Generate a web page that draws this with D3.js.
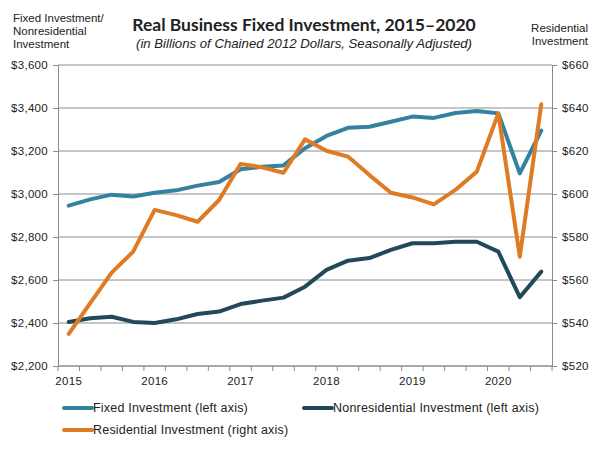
<!DOCTYPE html>
<html>
<head>
<meta charset="utf-8">
<script src="https://cdn.jsdelivr.net/npm/d3@7"></script>
<style>
  body { margin: 0; background: #fff; }
  text { fill: #222; }
</style>
</head>
<body>
<div id="chart"></div>
<script>
// quarterly data, 2015Q1 - 2020Q3
const quarters = ["2015Q1", "2015Q2", "2015Q3", "2015Q4",
    "2016Q1", "2016Q2", "2016Q3", "2016Q4",
    "2017Q1", "2017Q2", "2017Q3", "2017Q4",
    "2018Q1", "2018Q2", "2018Q3", "2018Q4",
    "2019Q1", "2019Q2", "2019Q3", "2019Q4",
    "2020Q1", "2020Q2", "2020Q3"];
const fixedInv = [2946, 2975, 2997, 2988, 3006, 3017, 3039, 3056, 3115, 3127, 3133, 3213,
    3270, 3308, 3313, 3336, 3360, 3354, 3377, 3386, 3375, 3096, 3295];
const nonresInv = [2405, 2422, 2429, 2405, 2400, 2417, 2442, 2453, 2488, 2504, 2518, 2569,
    2647, 2690, 2702, 2740, 2771, 2771, 2778, 2778, 2732, 2520, 2639];
const residInv = [534.9, 549.2, 563.4, 573.2, 592.6, 590.2, 587.1, 597.2, 614.0, 612.4, 609.9, 625.4,
    620.1, 617.4, 608.8, 600.6, 598.4, 595.2, 601.9, 610.4, 637.5, 570.8, 641.7];
const leftTicks = [2200, 2400, 2600, 2800, 3000, 3200, 3400, 3600];
const rightTicks = [520, 540, 560, 580, 600, 620, 640, 660];
const yearLabels = ["2015Q1", "2016Q1", "2017Q1", "2018Q1", "2019Q1", "2020Q1"];

const width = 600, height = 450;
const margin = {top: 65, right: 48, bottom: 84, left: 58};
const font = "'Liberation Sans', Arial, sans-serif";

const svg = d3.select("#chart").append("svg")
    .attr("width", width)
    .attr("height", height)
    .style("font-family", font);

const x = d3.scaleBand()
    .domain(quarters)
    .range([margin.left, width - margin.right]);

const yLeft = d3.scaleLinear()
    .domain([2200, 3600])
    .range([height - margin.bottom, margin.top]);

const yRight = d3.scaleLinear()
    .domain([520, 660])
    .range([height - margin.bottom, margin.top]);

// gridlines
svg.append("g")
    .selectAll("line")
    .data(leftTicks)
    .join("line")
    .attr("x1", margin.left)
    .attr("x2", width - margin.right)
    .attr("y1", d => yLeft(d))
    .attr("y2", d => yLeft(d))
    .attr("stroke", "#8c8c8c")
    .attr("stroke-width", 1);

// left axis
const leftAxis = svg.append("g")
    .attr("transform", `translate(${margin.left},0)`)
    .call(d3.axisLeft(yLeft).tickValues(leftTicks).tickSize(5).tickPadding(5)
        .tickFormat(d => "$" + d3.format(",")(d)));
// right axis
const rightAxis = svg.append("g")
    .attr("transform", `translate(${width - margin.right},0)`)
    .call(d3.axisRight(yRight).tickValues(rightTicks).tickSize(5).tickPadding(5)
        .tickFormat(d => "$" + d));

[leftAxis, rightAxis].forEach(a => {
    a.select(".domain").attr("stroke", "#8c8c8c");
    a.selectAll(".tick line").attr("stroke", "#8c8c8c");
    a.selectAll(".tick text").style("font-size", "11.5px").style("font-family", font)
        .style("letter-spacing", "0.3px").attr("fill", "#222");
});

// bottom axis: ticks at quarter boundaries, labels at Q1
const bottom = svg.append("g")
    .attr("transform", `translate(0,${height - margin.bottom})`);
bottom.append("line")
    .attr("x1", margin.left)
    .attr("x2", width - margin.right)
    .attr("stroke", "#8c8c8c");
const boundaries = quarters.map(q => x(q)).concat([x.range()[1]]);
bottom.selectAll(".qtick")
    .data(boundaries)
    .join("line")
    .attr("class", "qtick")
    .attr("x1", d => d).attr("x2", d => d)
    .attr("y1", 0).attr("y2", 5)
    .attr("stroke", "#8c8c8c");
bottom.selectAll(".ylabel")
    .data(yearLabels)
    .join("text")
    .attr("class", "ylabel")
    .attr("x", d => x(d) + x.bandwidth() / 2)
    .attr("y", 19)
    .attr("text-anchor", "middle")
    .style("font-size", "11.5px")
    .style("letter-spacing", "0.3px")
    .text(d => d.slice(0, 4));

// lines
const series = [
    {name: "Fixed Investment (left axis)", values: fixedInv, scale: yLeft, color: "#3581a0"},
    {name: "Nonresidential Investment (left axis)", values: nonresInv, scale: yLeft, color: "#22495a"},
    {name: "Residential Investment (right axis)", values: residInv, scale: yRight, color: "#e07b25"}
];

series.forEach(s => {
    const line = d3.line()
        .x((d, i) => x(quarters[i]) + x.bandwidth() / 2)
        .y(d => s.scale(d));
    svg.append("path")
        .datum(s.values)
        .attr("d", line)
        .attr("fill", "none")
        .attr("stroke", s.color)
        .attr("stroke-width", 4)
        .attr("stroke-linejoin", "round")
        .attr("stroke-linecap", "round");
});

// titles
svg.append("text")
    .attr("x", 304).attr("y", 31)
    .attr("text-anchor", "middle")
    .style("font-family", "Lato, sans-serif")
    .style("font-weight", "bold")
    .style("font-size", "17.5px")
    .attr("fill", "#111")
    .text("Real Business Fixed Investment, 2015\u20132020");
svg.append("text")
    .attr("x", 304).attr("y", 48)
    .attr("text-anchor", "middle")
    .style("font-style", "italic")
    .style("font-size", "13.2px")
    .text("(in Billions of Chained 2012 Dollars, Seasonally Adjusted)");

const leftTitle = ["Fixed Investment/", "Nonresidential", "Investment"];
svg.append("g").selectAll("text")
    .data(leftTitle)
    .join("text")
    .attr("x", 13)
    .attr("y", (d, i) => 22 + i * 13)
    .style("font-size", "11.5px")
    .text(d => d);

const rightTitle = ["Residential", "Investment"];
svg.append("g").selectAll("text")
    .data(rightTitle)
    .join("text")
    .attr("x", 588)
    .attr("y", (d, i) => 32 + i * 13)
    .attr("text-anchor", "end")
    .style("font-size", "11.5px")
    .text(d => d);

// legend
const legendPos = [{x: 64, y: 408}, {x: 304, y: 408}, {x: 64, y: 430}];
const legend = svg.append("g")
    .selectAll("g")
    .data(series)
    .join("g")
    .attr("transform", (d, i) => `translate(${legendPos[i].x},${legendPos[i].y})`);
legend.append("line")
    .attr("x1", 0).attr("x2", 28)
    .attr("stroke", d => d.color)
    .attr("stroke-width", 4)
    .attr("stroke-linecap", "round");
legend.append("text")
    .attr("x", 29)
    .attr("dy", "0.35em")
    .style("font-size", "12.5px")
    .style("letter-spacing", "0.2px")
    .text(d => d.name);
</script>
</body>
</html>
